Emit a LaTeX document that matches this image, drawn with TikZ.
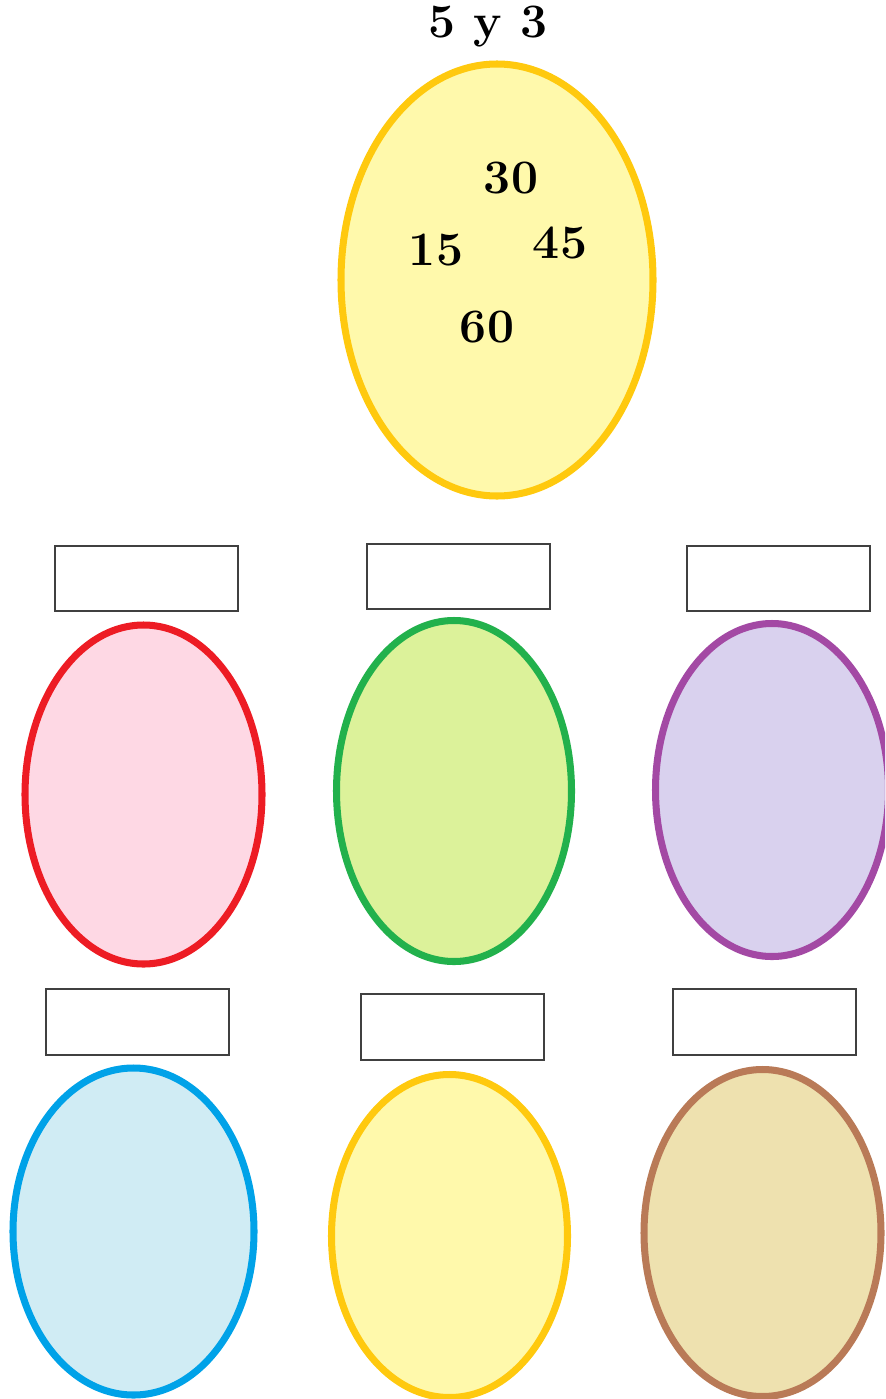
\documentclass[tikz,border=0pt]{standalone}
\usepackage{tikz}

\definecolor{eggyellow}{HTML}{FFC90E}
\definecolor{fillyellow}{HTML}{FFF9AB}
\definecolor{eggred}{HTML}{ED1C24}
\definecolor{fillred}{HTML}{FED8E4}
\definecolor{egggreen}{HTML}{22B14C}
\definecolor{fillgreen}{HTML}{DCF29A}
\definecolor{eggpurple}{HTML}{A349A4}
\definecolor{fillpurple}{HTML}{D9D1EE}
\definecolor{eggblue}{HTML}{00A2E8}
\definecolor{fillblue}{HTML}{D0ECF4}
\definecolor{eggbrown}{HTML}{B97A57}
\definecolor{fillbrown}{HTML}{EEE1AF}

\tikzset{
    egg/.style={line width=6pt},
    labelbox/.style={draw=black!75, line width=1.3pt, fill=white},
    num/.style={font=\fontsize{41}{41}\selectfont\bfseries, inner sep=0pt}
}

\begin{document}
\begin{tikzpicture}[x=0.03cm, y=-0.03cm]
    \useasboundingbox (0, 0) rectangle (885, 1399);
    \clip (0, 0) rectangle (885, 1399);

    % the filled egg
    \node[num] (title) at (488, 27) {5 y 3};
    \draw[egg, draw=eggyellow, fill=fillyellow] (497, 280) ellipse (156 and 216);
    \node[num] (n30) at (511, 178) {30};
    \node[num] (n15) at (436, 250) {15};
    \node[num] (n45) at (560, 243) {45};
    \node[num] (n60) at (487, 327) {60};

    % middle row
    \draw[labelbox] (55, 546) rectangle (238, 611);
    \draw[egg, draw=eggred, fill=fillred] (143.5, 794.5) ellipse (118.5 and 169.5);
    \draw[labelbox] (367, 544) rectangle (550, 609);
    \draw[egg, draw=egggreen, fill=fillgreen] (454, 791) ellipse (117.5 and 170.5);
    \draw[labelbox] (687, 546) rectangle (870, 611);
    \draw[egg, draw=eggpurple, fill=fillpurple] (772, 790) ellipse (116.5 and 166.5);

    % bottom row
    \draw[labelbox] (46, 989) rectangle (229, 1055);
    \draw[egg, draw=eggblue, fill=fillblue] (133.5, 1231.5) ellipse (120.5 and 163.5);
    \draw[labelbox] (361, 994) rectangle (544, 1060);
    \draw[egg, draw=eggyellow, fill=fillyellow] (449.5, 1236) ellipse (118 and 161.5);
    \draw[labelbox] (673, 989) rectangle (856, 1055);
    \draw[egg, draw=eggbrown, fill=fillbrown] (762.5, 1233) ellipse (118.5 and 163.5);
\end{tikzpicture}
\end{document}
